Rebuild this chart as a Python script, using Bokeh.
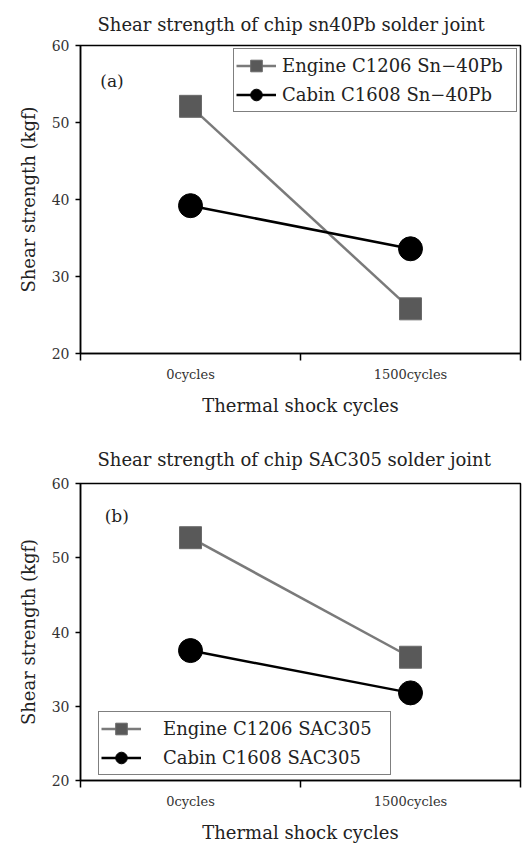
from bokeh.plotting import figure
from bokeh.layouts import column
from bokeh.models import Range1d, FixedTicker, Legend, LegendItem, Label
from bokeh.embed import file_html
from bokeh.resources import INLINE

categories = ["0cycles", "1500cycles"]
sn_engine = [52.1, 25.8]
sn_cabin = [39.2, 33.6]
sac_engine = [52.7, 36.6]
sac_cabin = [37.5, 31.8]
titles = ["Shear strength of chip sn40Pb solder joint",
          "Shear strength of chip SAC305 solder joint"]
labels_a = ["Engine C1206 Sn\u221240Pb", "Cabin C1608 Sn\u221240Pb"]
labels_b = ["Engine C1206 SAC305", "Cabin C1608 SAC305"]
tags = ["(a)", "(b)"]
y_ticks = [20, 30, 40, 50, 60]
x_label = "Thermal shock cycles"
y_label = "Shear strength (kgf)"

FONT = "DejaVu Serif"
xs = [i + 0.5 for i in range(len(categories))]
bounds = [float(i) for i in range(len(categories) + 1)]


def panel(title, engine, cabin, labels, tag, height, btop, bbot, bleft, tstand,
          legend_loc, lab_standoff, lab_width, tag_xy):
    p = figure(width=525, height=height, output_backend="svg", toolbar_location=None,
               x_range=Range1d(0, len(categories)), y_range=Range1d(y_ticks[0], y_ticks[-1]),
               min_border_top=btop, min_border_bottom=bbot, min_border_left=bleft,
               min_border_right=5)
    p.title.text = title
    p.title.align = "left"
    p.title.offset = 17
    p.title.standoff = tstand
    p.title.text_font = FONT
    p.title.text_font_style = "normal"
    p.title.text_font_size = "18px"
    p.title.text_color = "#222222"
    p.grid.visible = False
    p.outline_line_color = "black"
    p.outline_line_width = 1.5
    p.background_fill_color = "white"
    p.border_fill_color = "white"

    xa = p.xaxis[0]
    xa.ticker = FixedTicker(ticks=xs, minor_ticks=bounds)
    xa.major_label_overrides = {x: c for x, c in zip(xs, categories)}
    xa.major_tick_out = 0
    xa.major_tick_in = 0
    xa.minor_tick_out = 7
    xa.minor_tick_in = 0
    xa.minor_tick_line_color = "black"
    xa.minor_tick_line_width = 1.5
    xa.axis_line_width = 1.5
    xa.major_label_standoff = 6
    xa.major_label_text_font = FONT
    xa.major_label_text_font_size = "13px"
    xa.major_label_text_color = "#333333"
    xa.axis_label = x_label
    xa.axis_label_text_font = FONT
    xa.axis_label_text_font_style = "normal"
    xa.axis_label_text_font_size = "18px"
    xa.axis_label_text_color = "#222222"
    xa.axis_label_standoff = 10

    ya = p.yaxis[0]
    ya.ticker = FixedTicker(ticks=y_ticks, minor_ticks=[])
    ya.major_tick_out = 5
    ya.major_tick_in = 0
    ya.major_tick_line_width = 1.5
    ya.axis_line_width = 1.5
    ya.major_label_standoff = 6
    ya.major_label_text_font = FONT
    ya.major_label_text_font_size = "14px"
    ya.major_label_text_color = "#333333"
    ya.axis_label = y_label
    ya.axis_label_text_font = FONT
    ya.axis_label_text_font_style = "normal"
    ya.axis_label_text_font_size = "18px"
    ya.axis_label_text_color = "#222222"
    ya.axis_label_standoff = 10

    l1 = p.line(xs, engine, line_color="#7a7a7a", line_width=2.5)
    s1 = p.scatter(xs, engine, marker="square", size=22, fill_color="#595959",
                   line_color="#6a6a6a", line_width=1)
    l2 = p.line(xs, cabin, line_color="black", line_width=2.5)
    s2 = p.scatter(xs, cabin, marker="circle", size=24, fill_color="black", line_color="black")

    leg = Legend(items=[LegendItem(label=labels[0], renderers=[l1, s1]),
                        LegendItem(label=labels[1], renderers=[l2, s2])],
                 location=legend_loc, orientation="vertical",
                 glyph_width=40, glyph_height=29, label_height=29,
                 label_width=lab_width,
                 padding=2, spacing=0, margin=0,
                 label_text_font=FONT, label_text_font_size="18px",
                 label_text_color="#222222", label_standoff=lab_standoff,
                 border_line_color="black", border_line_width=1.5,
                 background_fill_alpha=1.0)
    p.add_layout(leg, "center")

    p.add_layout(Label(x=tag_xy[0], y=tag_xy[1], text=tag, text_font=FONT,
                       text_font_size="17px", text_color="#222222",
                       text_baseline="middle", text_align="left",
                       background_fill_color="white"))
    return p


p1 = panel(titles[0], sn_engine, sn_cabin, labels_a, tags[0], 418, 45, 65, 80, 22,
           (153, 241), 6, 232, (0.09, 55.4))
p2 = panel(titles[1], sac_engine, sac_cabin, labels_b, tags[1], 427, 65, 64, 78, 28,
           (18, 5), 22, 225, (0.11, 55.6))

layout = column(p1, p2, spacing=0)
open("out.html", "w").write(file_html(layout, INLINE))
